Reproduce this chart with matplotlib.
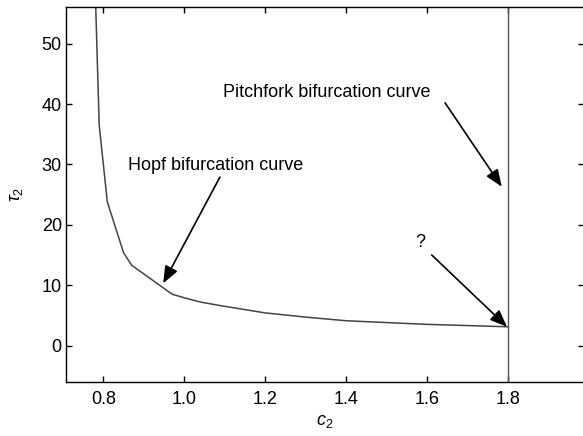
import matplotlib
matplotlib.use("Agg")
import matplotlib.pyplot as plt

plt.rcParams["font.family"] = ["Liberation Sans", "DejaVu Sans"]
plt.rcParams["mathtext.fontset"] = "custom"
plt.rcParams["mathtext.rm"] = "Liberation Sans"
plt.rcParams["mathtext.it"] = "Liberation Sans:italic"

# Hopf bifurcation curve in the (c2, tau2) plane
c2_hopf = [0.781, 0.79, 0.81, 0.85, 0.87, 0.97, 1.0, 1.04, 1.09, 1.2, 1.3, 1.4, 1.5, 1.6, 1.7, 1.8]
tau2_hopf = [57.0, 36.5, 23.8, 15.4, 13.3, 8.5, 7.9, 7.2, 6.6, 5.4, 4.7, 4.1, 3.8, 3.5, 3.3, 3.1]

# pitchfork curve is the vertical line c2 = 1.8
c2_pitchfork = 1.8

x_ticks = [0.8, 1.0, 1.2, 1.4, 1.6, 1.8]
y_ticks = [0, 10, 20, 30, 40, 50]

fig = plt.figure(figsize=(5.83, 4.36), dpi=100)
ax = fig.add_axes([0.1132, 0.1245, 0.8885, 0.8583])

ax.plot(c2_hopf, tau2_hopf, color="#444444", lw=1.1)
ax.axvline(c2_pitchfork, color="#555555", lw=1.0)

ax.set_xlim(0.708, 1.987)
ax.set_ylim(-6.0, 56.0)
ax.set_xticks(x_ticks)
ax.set_yticks(y_ticks)
ax.tick_params(direction="in", length=4, width=1, top=True, right=True, labelsize=13)
ax.tick_params(axis="x", pad=7)
ax.tick_params(axis="y", pad=3)
for s in ax.spines.values():
    s.set_linewidth(1.0)

ax.set_xlabel("$c_2$", fontsize=13, labelpad=3)
ax.set_ylabel(r"$\tau_2$", fontsize=13, labelpad=12)

arrow = dict(arrowstyle="-|>,head_length=0.8,head_width=0.32", color="black", lw=1.2,
             shrinkA=0, shrinkB=0, mutation_scale=13)
ax.text(1.352, 41.9, "Pitchfork bifurcation curve", fontsize=13, ha="center", va="center")
ax.annotate("", xy=(1.784, 26.3), xytext=(1.644, 40.2), arrowprops=arrow)
ax.text(1.077, 29.9, "Hopf bifurcation curve", fontsize=13, ha="center", va="center")
ax.annotate("", xy=(0.948, 10.3), xytext=(1.088, 27.9), arrowprops=arrow)
ax.text(1.584, 17.0, "?", fontsize=13, ha="center", va="center")
ax.annotate("", xy=(1.797, 3.1), xytext=(1.611, 15.0), arrowprops=arrow)

fig.savefig("out.png", dpi=100)
